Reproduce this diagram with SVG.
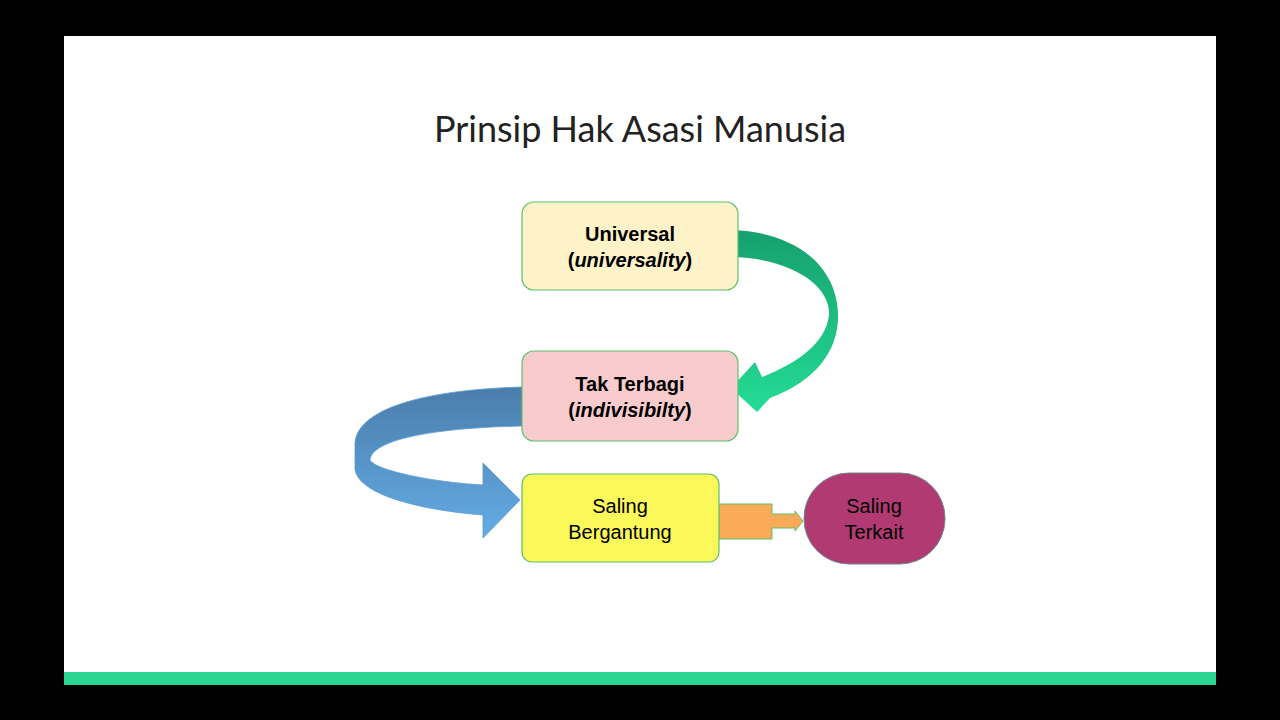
<svg xmlns="http://www.w3.org/2000/svg" width="1280" height="720" viewBox="0 0 1280 720">
<defs>
<linearGradient id="gg" x1="0" y1="0" x2="0" y2="1"><stop offset="0" stop-color="#16a06e"/><stop offset="1" stop-color="#24dc95"/></linearGradient>
<linearGradient id="bg" x1="0" y1="0" x2="0" y2="1"><stop offset="0" stop-color="#4a7dab"/><stop offset="1" stop-color="#64ace6"/></linearGradient>
<style>
.b{stroke:#5cbf6a;stroke-width:1.2}
.t{font-family:"Liberation Sans",Arial,sans-serif;font-size:20px;text-anchor:middle;fill:#000}
</style>
</defs>
<rect width="1280" height="720" fill="#000"/>
<rect x="64" y="36" width="1152" height="649" fill="#fff"/>
<rect x="64" y="672" width="1152" height="13" fill="#2bd693"/>
<text x="640" y="142" font-family="Lato,'Open Sans',sans-serif" font-size="36" text-anchor="middle" fill="#222">Prinsip Hak Asasi Manusia</text>
<g id="connectors">
<path d="M731,230 C800,232 840,270 838,320 C836,360 805,385 770,398 L757,412 L731,388 L755,362 L762,377 C800,362 826,342 829,315 C831,285 790,258 731,257 Z" fill="url(#gg)"/>
<path d="M522,387 C420,390 355,410 355,445 L355,470 C360,495 420,510 483,515 L483,538 L520,500 L483,463 L483,485 C430,482 375,470 370,460 C372,440 430,428 522,426 Z" fill="url(#bg)" stroke="#5a9bd0" stroke-width="0.8"/>
<path d="M716,504 H772 V514 H795 V511 L803,521 L795,531 V528 H772 V539 H716 Z" fill="#fbab57" stroke="#5cbf6a" stroke-width="1"/>
</g>
<g id="n1"><rect x="522" y="202" width="216" height="88" rx="12" fill="#fdf2c8" class="b"/>
<text class="t" x="630" y="241" font-weight="bold">Universal</text>
<text class="t" x="630" y="267" font-weight="bold">(<tspan font-style="italic">universality</tspan>)</text></g>
<g id="n2"><rect x="522" y="351" width="216" height="90" rx="12" fill="#f8cccc" class="b"/>
<text class="t" x="630" y="391" font-weight="bold">Tak Terbagi</text>
<text class="t" x="630" y="417" font-weight="bold">(<tspan font-style="italic">indivisibilty</tspan>)</text></g>
<g id="n3"><rect x="522" y="474" width="197" height="88" rx="10" fill="#fbf85a" class="b"/>
<text class="t" x="620" y="513">Saling</text>
<text class="t" x="620" y="539">Bergantung</text></g>
<g id="n4"><rect x="804" y="473" width="141" height="91" rx="45" fill="#b13a72" stroke="#6a8a8a" stroke-width="1"/>
<text class="t" x="874" y="513">Saling</text>
<text class="t" x="874" y="539">Terkait</text></g>
</svg>
